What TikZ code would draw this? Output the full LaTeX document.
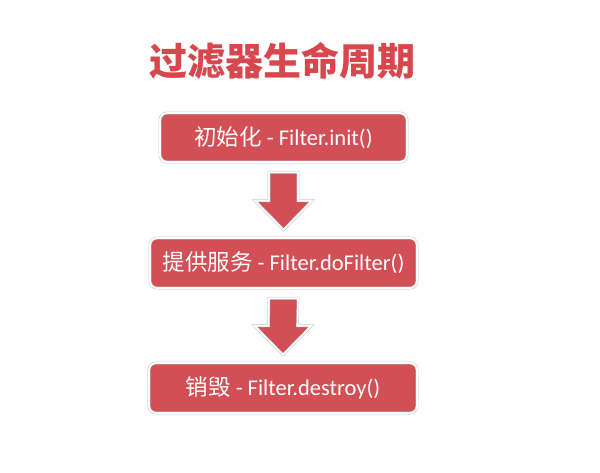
\documentclass[tikz,border=0pt]{standalone}
\usepackage{fontspec}
\setmainfont{Carlito}
\newfontfamily\cjk{Noto Sans CJK SC}
\usetikzlibrary{calc,shadows}
\definecolor{boxred}{HTML}{D24F56}
\definecolor{titlered}{HTML}{D8474E}
\tikzset{
  stepbox/.style={draw=black!22, line width=0.5pt, double=white, double distance=1.8pt,
    fill=boxred, rounded corners=7pt,
    text=white, font=\fontsize{22.5}{26}\selectfont, inner sep=0pt,
    drop shadow={opacity=0.3, shadow xshift=0.8pt, shadow yshift=-1pt}},
  blockarrow/.style={draw=black!22, line width=0.5pt, double=white, double distance=1.6pt,
    fill=boxred,
    drop shadow={opacity=0.25, shadow xshift=0.8pt, shadow yshift=-1pt}},
}
\newcommand{\blockarr}[2]{%
  \coordinate (top) at ($(#1.south)+(0,-10)$);
  \coordinate (tip) at ($(#2.north)+(0,8)$);
  \path[blockarrow] ($(top)+(-14.5,0)$) -- ($(top)+(14.5,0)$) -- ($(tip)+(14.5,29)$)
    -- ($(tip)+(28.5,29)$) -- (tip) -- ($(tip)+(-28.5,29)$) -- ($(tip)+(-14.5,29)$) -- cycle;
}
\begin{document}
\begin{tikzpicture}[x=1pt,y=1pt]
\useasboundingbox[fill=white] (0,0) rectangle (600,472);
\node[text=titlered, font=\cjk\bfseries\fontsize{38}{42}\selectfont, inner sep=0pt] (title) at (282.5,411.5) {过滤器生命周期};
\node[stepbox, minimum width=247pt, minimum height=49pt] (b1) at (283.5,334.5) {{\cjk 初始化} - Filter.init()};
\node[stepbox, minimum width=267pt, minimum height=50pt] (b2) at (283.5,209) {{\cjk 提供服务} - Filter.doFilter()};
\node[stepbox, minimum width=268pt, minimum height=50pt] (b3) at (283,84) {{\cjk 销毁} - Filter.destroy()};
\blockarr{b1}{b2}
\blockarr{b2}{b3}
\end{tikzpicture}
\end{document}
